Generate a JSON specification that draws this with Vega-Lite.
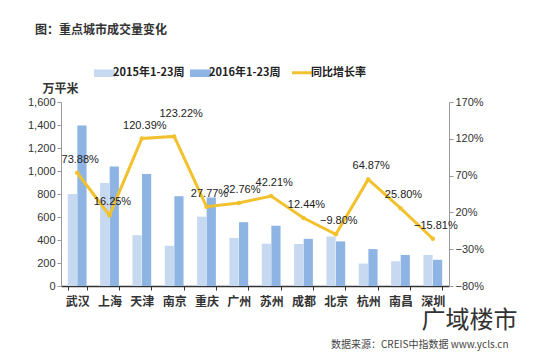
{
  "$schema": "https://vega.github.io/schema/vega-lite/v6.json",
  "width": 388,
  "height": 184,
  "autosize": {"type": "none"},
  "padding": {"left": 61, "top": 102, "right": 111, "bottom": 74},
  "background": "white",
  "title": {
    "text": "图：重点城市成交量变化",
    "anchor": "start",
    "frame": "group",
    "dx": -26,
    "offset": 30,
    "font": "Noto Sans CJK SC",
    "fontSize": 12,
    "fontWeight": "bold",
    "color": "#333333"
  },
  "config": {
    "view": {"stroke": null},
    "axis": {"labelFont": "Liberation Sans", "labelFontSize": 11, "labelColor": "#333333", "titleFont": "Noto Sans CJK SC", "grid": false, "labelOverlap": false}
  },
  "datasets": {
    "bars": [
      {"city": "武汉", "series": "2015年1-23周", "value": 800},
      {"city": "武汉", "series": "2016年1-23周", "value": 1395},
      {"city": "上海", "series": "2015年1-23周", "value": 895},
      {"city": "上海", "series": "2016年1-23周", "value": 1040},
      {"city": "天津", "series": "2015年1-23周", "value": 442},
      {"city": "天津", "series": "2016年1-23周", "value": 975},
      {"city": "南京", "series": "2015年1-23周", "value": 350},
      {"city": "南京", "series": "2016年1-23周", "value": 781},
      {"city": "重庆", "series": "2015年1-23周", "value": 603},
      {"city": "重庆", "series": "2016年1-23周", "value": 770},
      {"city": "广州", "series": "2015年1-23周", "value": 418},
      {"city": "广州", "series": "2016年1-23周", "value": 555},
      {"city": "苏州", "series": "2015年1-23周", "value": 368},
      {"city": "苏州", "series": "2016年1-23周", "value": 524},
      {"city": "成都", "series": "2015年1-23周", "value": 365},
      {"city": "成都", "series": "2016年1-23周", "value": 410},
      {"city": "北京", "series": "2015年1-23周", "value": 430},
      {"city": "北京", "series": "2016年1-23周", "value": 388},
      {"city": "杭州", "series": "2015年1-23周", "value": 195},
      {"city": "杭州", "series": "2016年1-23周", "value": 321},
      {"city": "南昌", "series": "2015年1-23周", "value": 215},
      {"city": "南昌", "series": "2016年1-23周", "value": 270},
      {"city": "深圳", "series": "2015年1-23周", "value": 270},
      {"city": "深圳", "series": "2016年1-23周", "value": 228}
    ],
    "growth": [
      {"city": "武汉", "rate": 0.7388},
      {"city": "上海", "rate": 0.1625},
      {"city": "天津", "rate": 1.2039},
      {"city": "南京", "rate": 1.2322},
      {"city": "重庆", "rate": 0.2777},
      {"city": "广州", "rate": 0.3276},
      {"city": "苏州", "rate": 0.4221},
      {"city": "成都", "rate": 0.1244},
      {"city": "北京", "rate": -0.098},
      {"city": "杭州", "rate": 0.6487},
      {"city": "南昌", "rate": 0.258},
      {"city": "深圳", "rate": -0.1581}
    ]
  },
  "encoding": {
    "x": {
      "field": "city",
      "type": "nominal",
      "sort": ["武汉", "上海", "天津", "南京", "重庆", "广州", "苏州", "成都", "北京", "杭州", "南昌", "深圳"],
      "scale": {"paddingInner": 0.42, "paddingOuter": 0.21},
      "axis": {
        "labelAngle": 0,
        "labelFont": "Noto Sans CJK SC",
        "labelFontSize": 12,
        "labelFontWeight": "bold",
        "labelPadding": 6,
        "domainColor": "#333333",
        "domainWidth": 1.5,
        "tickBand": "extent",
        "tickColor": "#333333",
        "tickSize": 4,
        "title": "数据来源：CREIS中指数据  www.ycls.cn",
        "titleFontSize": 10,
        "titleFontWeight": "normal",
        "titleColor": "#444444",
        "titleAnchor": "end",
        "titleAlign": "right",
        "titleX": 447,
        "titleY": 53
      }
    }
  },
  "layer": [
    {
      "data": {"name": "bars"},
      "mark": {"type": "bar"},
      "encoding": {
        "xOffset": {"field": "series", "type": "nominal", "scale": {"paddingInner": 0.04}},
        "y": {
          "field": "value",
          "type": "quantitative",
          "scale": {"domain": [0, 1600]},
          "axis": {
            "values": [0, 200, 400, 600, 800, 1000, 1200, 1400, 1600],
            "format": ",.0f",
            "domainColor": "#999999",
            "tickColor": "#999999",
            "tickSize": 4,
            "title": "万平米",
            "titleAngle": 0,
            "titleAlign": "center",
            "titleBaseline": "middle",
            "titleX": -1,
            "titleY": -14,
            "titleFontSize": 12,
            "titleFontWeight": "bold",
            "titleColor": "#333333"
          }
        },
        "color": {
          "field": "series",
          "type": "nominal",
          "scale": {
            "domain": ["2015年1-23周", "2016年1-23周", "同比增长率"],
            "range": ["#c6d9f0", "#8db4e2", "#f2c12e"]
          },
          "legend": {
            "orient": "none",
            "legendX": 38,
            "legendY": -35,
            "direction": "horizontal",
            "title": null,
            "symbolSize": 441,
            "labelFont": "Noto Sans CJK SC",
            "labelFontSize": 11,
            "labelFontWeight": "bold",
            "labelColor": "#222222",
            "labelOffset": 3,
            "columnPadding": 5,
            "encode": {
              "symbols": {
                "update": {
                  "shape": {"signal": "datum.value === '同比增长率' ? 'M-1,0H1' : 'M-1,-0.36H1V0.36H-1Z'"},
                  "fill": {"signal": "datum.value === '同比增长率' ? 'transparent' : scale('color', datum.value)"},
                  "stroke": {"signal": "scale('color', datum.value)"},
                  "strokeWidth": {"signal": "datum.value === '同比增长率' ? 3 : 0"},
                  "opacity": {"value": 1}
                }
              }
            }
          }
        }
      }
    },
    {
      "data": {"name": "growth"},
      "encoding": {
        "y": {
          "field": "rate",
          "type": "quantitative",
          "scale": {"domain": [-0.8, 1.7], "nice": false},
          "axis": {
            "orient": "right",
            "values": [-0.8, -0.3, 0.2, 0.7, 1.2, 1.7],
            "format": ".0%",
            "labelOverlap": false,
            "labelBound": false,
            "labelFlush": false,
            "domainColor": "#999999",
            "tickColor": "#999999",
            "tickSize": 4,
            "title": "广域楼市",
            "titleAngle": 0,
            "titleAlign": "center",
            "titleBaseline": "middle",
            "titleX": 20,
            "titleY": 218,
            "titleFontSize": 24,
            "titleFontWeight": "normal",
            "titleColor": "#333333"
          }
        }
      },
      "layer": [
        {
          "mark": {"type": "line", "strokeWidth": 3, "point": {"filled": true, "size": 20, "color": "#f2c12e"}},
          "encoding": {
            "color": {"datum": "同比增长率"}
          }
        },
        {
          "transform": [{"filter": "datum.rate <= 1.22"}],
          "mark": {"type": "text", "dy": -13, "dx": 3, "font": "Liberation Sans", "fontSize": 11, "color": "#222222"},
          "encoding": {
            "text": {"field": "rate", "type": "quantitative", "format": ".2%"}
          }
        },
        {
          "transform": [{"filter": "datum.rate > 1.22"}],
          "mark": {"type": "text", "dy": -22, "dx": 7, "font": "Liberation Sans", "fontSize": 11, "color": "#222222"},
          "encoding": {
            "text": {"field": "rate", "type": "quantitative", "format": ".2%"}
          }
        }
      ]
    }
  ],
  "resolve": {"scale": {"y": "independent"}}
}
